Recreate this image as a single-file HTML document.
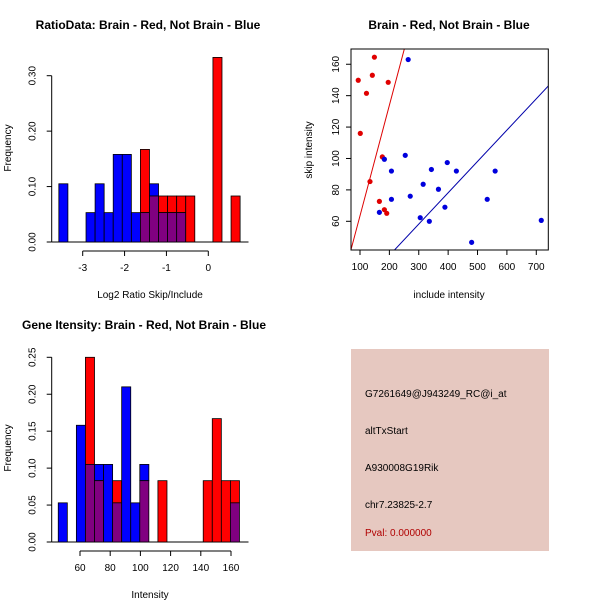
<!DOCTYPE html>
<html><head><meta charset="utf-8"><style>
body{margin:0;background:#fff}
svg{display:block;font-family:"Liberation Sans",Arial,sans-serif}
</style></head><body>
<svg id="s" width="600" height="600" xmlns="http://www.w3.org/2000/svg">
<rect width="600" height="600" fill="#fff"/>
<text x="148" y="29" font-size="12" font-weight="bold" text-anchor="middle">RatioData: Brain - Red, Not Brain - Blue</text>
<text x="449" y="29" font-size="12" font-weight="bold" text-anchor="middle">Brain - Red, Not Brain - Blue</text>
<text x="144" y="329" font-size="12" font-weight="bold" text-anchor="middle">Gene Itensity: Brain - Red, Not Brain - Blue</text>
<text x="150" y="298" font-size="10" text-anchor="middle">Log2 Ratio Skip/Include</text>
<text x="449" y="298" font-size="10" text-anchor="middle">include intensity</text>
<text x="150" y="598" font-size="10" text-anchor="middle">Intensity</text>
<text transform="translate(11,148) rotate(-90)" font-size="10" text-anchor="middle">Frequency</text>
<text transform="translate(312,150) rotate(-90)" font-size="10" text-anchor="middle">skip intensity</text>
<text transform="translate(11,448) rotate(-90)" font-size="10" text-anchor="middle">Frequency</text>
<g>
<rect x="351" y="349" width="198" height="202" fill="#e6c8c0"/>
<text x="365" y="397" font-size="10">G7261649@J943249_RC@i_at</text>
<text x="365" y="434" font-size="10">altTxStart</text>
<text x="365" y="471" font-size="10">A930008G19Rik</text>
<text x="365" y="508" font-size="10">chr7.23825-2.7</text>
<text x="365" y="536" font-size="10" fill="#b00000">Pval: 0.000000</text>
</g>
</svg>
<script>
// Ratio histogram data
const ratioStart=-3.57, ratioWidth=0.2165;
const ratioBlue=[0.105,0,0,0.053,0.105,0.053,0.158,0.158,0.053,0.053,0.105,0.053,0.053,0.053,0,0,0,0,0,0];
const ratioRed=[0,0,0,0,0,0,0,0,0,0.167,0.083,0.083,0.083,0.083,0.083,0,0,0.333,0,0.083];
const ratioXTicks=[-3,-2,-1,0];
const ratioYTicks=[0,0.1,0.2,0.3];
const ratioYLabels=["0.00","0.10","0.20","0.30"];
// Intensity histogram data
const intStart=45.6, intWidth=6;
const intBlue=[0.053,0,0.158,0.105,0.105,0.105,0.053,0.21,0.053,0.105,0,0,0,0,0,0,0,0,0,0.053];
const intRed=[0,0,0,0.25,0.083,0,0.083,0,0,0.083,0,0.083,0,0,0,0,0.083,0.167,0.083,0.083];
const intXTicks=[60,80,100,120,140,160];
const intYTicks=[0,0.05,0.1,0.15,0.2,0.25];
const intYLabels=["0.00","0.05","0.10","0.15","0.20","0.25"];
// Scatter data
const redInc=[149,94,122,142,196,101,176,134,166,183,191];
const redSkip=[164.5,149.8,141.5,153,148.5,116,101,85.3,72.7,67.4,65.1];
const blueInc=[264,183,254,207,343,397,428,560,315,367,271,207,533,166,305,336,389,480,717];
const blueSkip=[163,99.5,102,92,93,97.4,92,92,83.6,80.4,76,74,74,65.7,62.3,60,69,46.6,60.6];
const fitIntercept=[-6.9,-1.6];
const fitSlope=[0.704,0.1994];
const scXTicks=[100,200,300,400,500,600,700];
const scYTicks=[60,80,100,120,140,160];

const NS="http://www.w3.org/2000/svg", svg=document.getElementById('s');
function mk(t,a,p){const e=document.createElementNS(NS,t);for(const k in a)e.setAttribute(k,a[k]);(p||svg).appendChild(e);return e;}

function hist(cfg){
  const {x0,x1,xv0,xv1,y0,y1,yv1,start,w,blue,red,xt,yt,yl,axLeft,axRight,name}=cfg;
  const X=v=>x0+(v-xv0)*(x1-x0)/(xv1-xv0);
  const Y=v=>y0-v*(y0-y1)/yv1;
  const g=mk('g',{});
  
  
  mk('line',{x1:axLeft,x2:axRight,y1:Y(0),y2:Y(0),stroke:'#000'},g);
  for(let i=0;i<blue.length;i++){
    const a=X(start+i*w), b=X(start+(i+1)*w);
    const bl=blue[i], rd=red[i], lo=Math.min(bl,rd), hi=Math.max(bl,rd);
    if(hi>lo){
      const r=mk('rect',{x:a,y:Y(hi),width:b-a,height:Y(lo)-Y(hi),fill:bl>rd?'#0000ff':'#ff0000',stroke:'#000','stroke-width':0.8},g);
      
      
    }
    if(lo>0){
      const r=mk('rect',{x:a,y:Y(lo),width:b-a,height:Y(0)-Y(lo),fill:'#800080',stroke:'#000','stroke-width':0.8},g);
      
      
    }
  }
  const ax=mk('g',{});
  
  
  const ty=y0+9;
  mk('line',{x1:X(xt[0]),x2:X(xt[xt.length-1]),y1:ty,y2:ty,stroke:'#000'},ax);
  xt.forEach(v=>{mk('line',{x1:X(v),x2:X(v),y1:ty,y2:ty+5,stroke:'#000'},ax);
    const t=mk('text',{x:X(v),y:ty+20,'font-size':10,'text-anchor':'middle'},ax);t.textContent=v;});
  const ay=mk('g',{});
  
  
  const ax0=axLeft;
  mk('line',{x1:ax0,x2:ax0,y1:Y(yt[0]),y2:Y(yt[yt.length-1]),stroke:'#000'},ay);
  yt.forEach((v,i)=>{mk('line',{x1:ax0-5,x2:ax0,y1:Y(v),y2:Y(v),stroke:'#000'},ay);
    const t=mk('text',{transform:`translate(${ax0-16},${Y(v)}) rotate(-90)`,'font-size':10,'text-anchor':'middle'},ay);t.textContent=yl[i];});
}
hist({x0:82.7,x1:208.3,xv0:-3,xv1:0,y0:242,y1:75.7,yv1:0.3,start:ratioStart,w:ratioWidth,blue:ratioBlue,red:ratioRed,xt:ratioXTicks,yt:ratioYTicks,yl:ratioYLabels,axLeft:51.7,axRight:248.5,name:'ratio'});
hist({x0:80,x1:231,xv0:60,xv1:160,y0:542,y1:357.3,yv1:0.25,start:intStart,w:intWidth,blue:intBlue,red:intRed,xt:intXTicks,yt:intYTicks,yl:intYLabels,axLeft:51.7,axRight:248.5,name:'intensity'});

// Scatter
(function(){
  const L=351,R=548.3,T=49,B=250;
  const X=v=>360+(v-100)*0.2938, Y=v=>221.3-(v-60)*1.5705;
  const xv0=100+(L-360)/0.2938, xv1=100+(R-360)/0.2938;
  const g=mk('g',{});
  
  
  const cp=mk('clipPath',{id:'cp'},g);
  mk('rect',{x:L,y:T,width:R-L,height:B-T},cp);
  const cols=['#dd0000','#0000aa'];
  fitIntercept.forEach((b,i)=>{
    const l=mk('line',{x1:X(xv0),y1:Y(b+fitSlope[i]*xv0),x2:X(xv1),y2:Y(b+fitSlope[i]*xv1),stroke:cols[i],'clip-path':'url(#cp)'},g);
    
    
  });
  redInc.forEach((v,i)=>{const c=mk('circle',{cx:X(v),cy:Y(redSkip[i]),r:2.6,fill:'#e00000'},g);
    
    });
  blueInc.forEach((v,i)=>{const c=mk('circle',{cx:X(v),cy:Y(blueSkip[i]),r:2.6,fill:'#0000dd'},g);
    
    });
  mk('rect',{x:L,y:T,width:R-L,height:B-T,fill:'none',stroke:'#000'},g);
  const ax=mk('g',{});
  
  
  scXTicks.forEach(v=>{mk('line',{x1:X(v),x2:X(v),y1:B,y2:B+5,stroke:'#000'},ax);
    const t=mk('text',{x:X(v),y:B+20,'font-size':10,'text-anchor':'middle'},ax);t.textContent=v;});
  const ay=mk('g',{});
  
  
  scYTicks.forEach(v=>{mk('line',{x1:L-5,x2:L,y1:Y(v),y2:Y(v),stroke:'#000'},ay);
    const t=mk('text',{transform:`translate(${L-12},${Y(v)}) rotate(-90)`,'font-size':10,'text-anchor':'middle'},ay);t.textContent=v;});
})();
</script>
</body></html>
